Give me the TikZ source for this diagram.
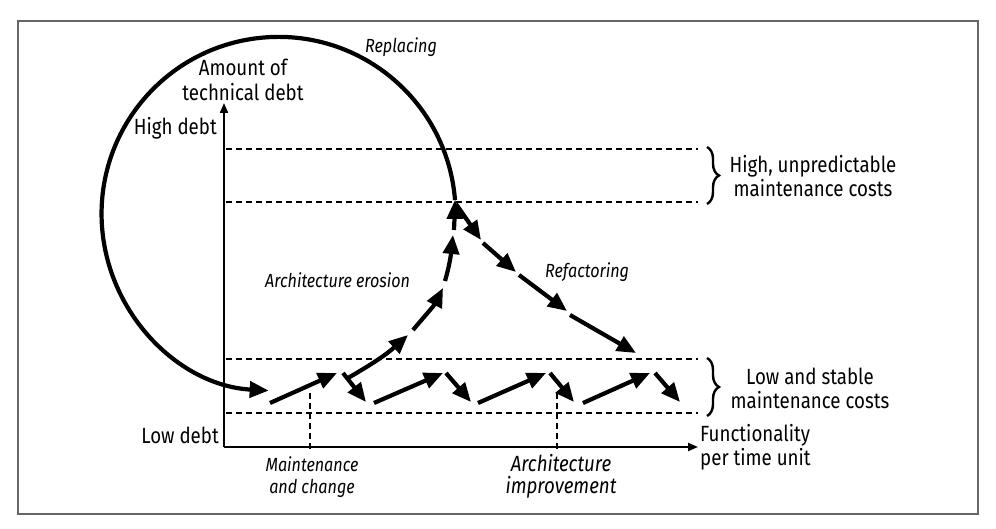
\documentclass[tikz,border=0pt]{standalone}
\usepackage{fontspec}
\setmainfont{Fira Sans}[FakeStretch=0.85]
\usetikzlibrary{arrows.meta,decorations.pathreplacing}
\begin{document}
\begin{tikzpicture}[x=1pt,y=-1pt,
  big/.style={line width=4.2pt,-{Triangle[length=19pt,width=16pt]}},
  axis/.style={line width=2pt,-{Triangle[length=10pt,width=8pt]}},
  guide/.style={line width=2.2pt,dash pattern=on 6pt off 4pt},
  pointer/.style={line width=2pt,dash pattern=on 6pt off 4pt},
  brc/.style={line width=2.4pt,decorate,decoration={brace,amplitude=12pt}},
  lbl/.style={inner sep=0pt,font=\fontsize{22}{24}\selectfont,align=center},
  itl/.style={inner sep=0pt,font=\fontsize{19}{22}\selectfont\itshape,align=center}]
\useasboundingbox (0,0) rectangle (996,529);
\draw[line width=1.5pt,draw=black!60] (18,21) rectangle (978,514);
% axes
\coordinate (O) at (224,447);
\coordinate (ytop) at (224,103);
\coordinate (xend) at (698,447);
\draw[axis] (O) -- (ytop);
\draw[axis] (O) -- (xend);
% guide lines
\coordinate (g1a) at (226,149); \coordinate (g1b) at (698,149);
\coordinate (g2a) at (226,202); \coordinate (g2b) at (698,202);
\coordinate (g3a) at (226,359); \coordinate (g3b) at (698,359);
\coordinate (g4a) at (226,413); \coordinate (g4b) at (698,413);
\draw[guide] (g1a) -- (g1b);
\draw[guide] (g2a) -- (g2b);
\draw[guide] (g3a) -- (g3b);
\draw[guide] (g4a) -- (g4b);
% braces
\coordinate (b1a) at (707,147); \coordinate (b1b) at (707,204);
\coordinate (b2a) at (707,358); \coordinate (b2b) at (707,416);
\draw[brc] (b1a) -- (b1b);
\draw[brc] (b2a) -- (b2b);
% pointers
\coordinate (p1a) at (310,393); \coordinate (p1b) at (310,450);
\coordinate (p2a) at (557,393); \coordinate (p2b) at (557,450);
\draw[pointer] (p1a) -- (p1b);
\draw[pointer] (p2a) -- (p2b);
% replacing circle
\coordinate (peak) at (455,200);
\draw[big] (peak) arc[start angle=-4.5,end angle=-266.8,radius=177];
% maintenance zigzag
\coordinate (z1) at (270,403); \coordinate (z2) at (337,373);
\coordinate (z3) at (343,373); \coordinate (z4) at (366,402);
\coordinate (z5) at (374,403); \coordinate (z6) at (443,373);
\coordinate (z7) at (446,373); \coordinate (z8) at (471,402);
\coordinate (z9) at (478,403); \coordinate (z10) at (546,373);
\coordinate (z11) at (550,373); \coordinate (z12) at (574,402);
\coordinate (z13) at (583,403); \coordinate (z14) at (650,373);
\coordinate (z15) at (655,373); \coordinate (z16) at (680,402);
\draw[big] (z1) -- (z2);
\draw[big] (z3) -- (z4);
\draw[big] (z5) -- (z6);
\draw[big] (z7) -- (z8);
\draw[big] (z9) -- (z10);
\draw[big] (z11) -- (z12);
\draw[big] (z13) -- (z14);
\draw[big] (z15) -- (z16);
% erosion
\coordinate (e1) at (348,378); \coordinate (e2) at (408,335);
\coordinate (e3) at (413,330); \coordinate (e4) at (443,288);
\coordinate (e5) at (445,281); \coordinate (e6) at (453,235);
\coordinate (e7) at (454,230);
\draw[big] (e1) to[out=30,in=222] (e2);
\draw[big] (e3) to[out=50,in=243] (e4);
\draw[big] (e5) to[out=74,in=264] (e6);
\draw[big] (e7) to[out=88,in=270] (peak);
% refactoring
\coordinate (r1) at (456,204); \coordinate (r2) at (481,240);
\coordinate (r3) at (483,243); \coordinate (r4) at (516,272);
\coordinate (r5) at (519,275); \coordinate (r6) at (567,311);
\coordinate (r7) at (570,315); \coordinate (r8) at (636,353);
\draw[big] (r1) -- (r2);
\draw[big] (r3) -- (r4);
\draw[big] (r5) -- (r6);
\draw[big] (r7) -- (r8);
% labels
\node[lbl,font=\fontsize{22}{25}\selectfont] (ylab) at (243,80) {Amount of\\technical debt};
\node[lbl,anchor=east] (hd) at (217,128) {High debt};
\node[lbl,anchor=east] (ld) at (219,435) {Low debt};
\node[lbl,anchor=west,align=left] (xlab) at (700,447) {Functionality\\per time unit};
\node[lbl] (hc) at (813,176) {High, unpredictable\\maintenance costs};
\node[lbl] (lc) at (810,388) {Low and stable\\maintenance costs};
\node[itl,anchor=west] (rep) at (365,47) {Replacing};
\node[itl,anchor=west] (ero) at (265,280) {Architecture erosion};
\node[itl,anchor=west] (ref) at (545,272) {Refactoring};
\node[itl] (mc) at (312,477) {Maintenance\\and change};
\node[itl,font=\fontsize{22}{22}\selectfont\itshape] (ai) at (561,476) {Architecture\\improvement};
\end{tikzpicture}
\end{document}
